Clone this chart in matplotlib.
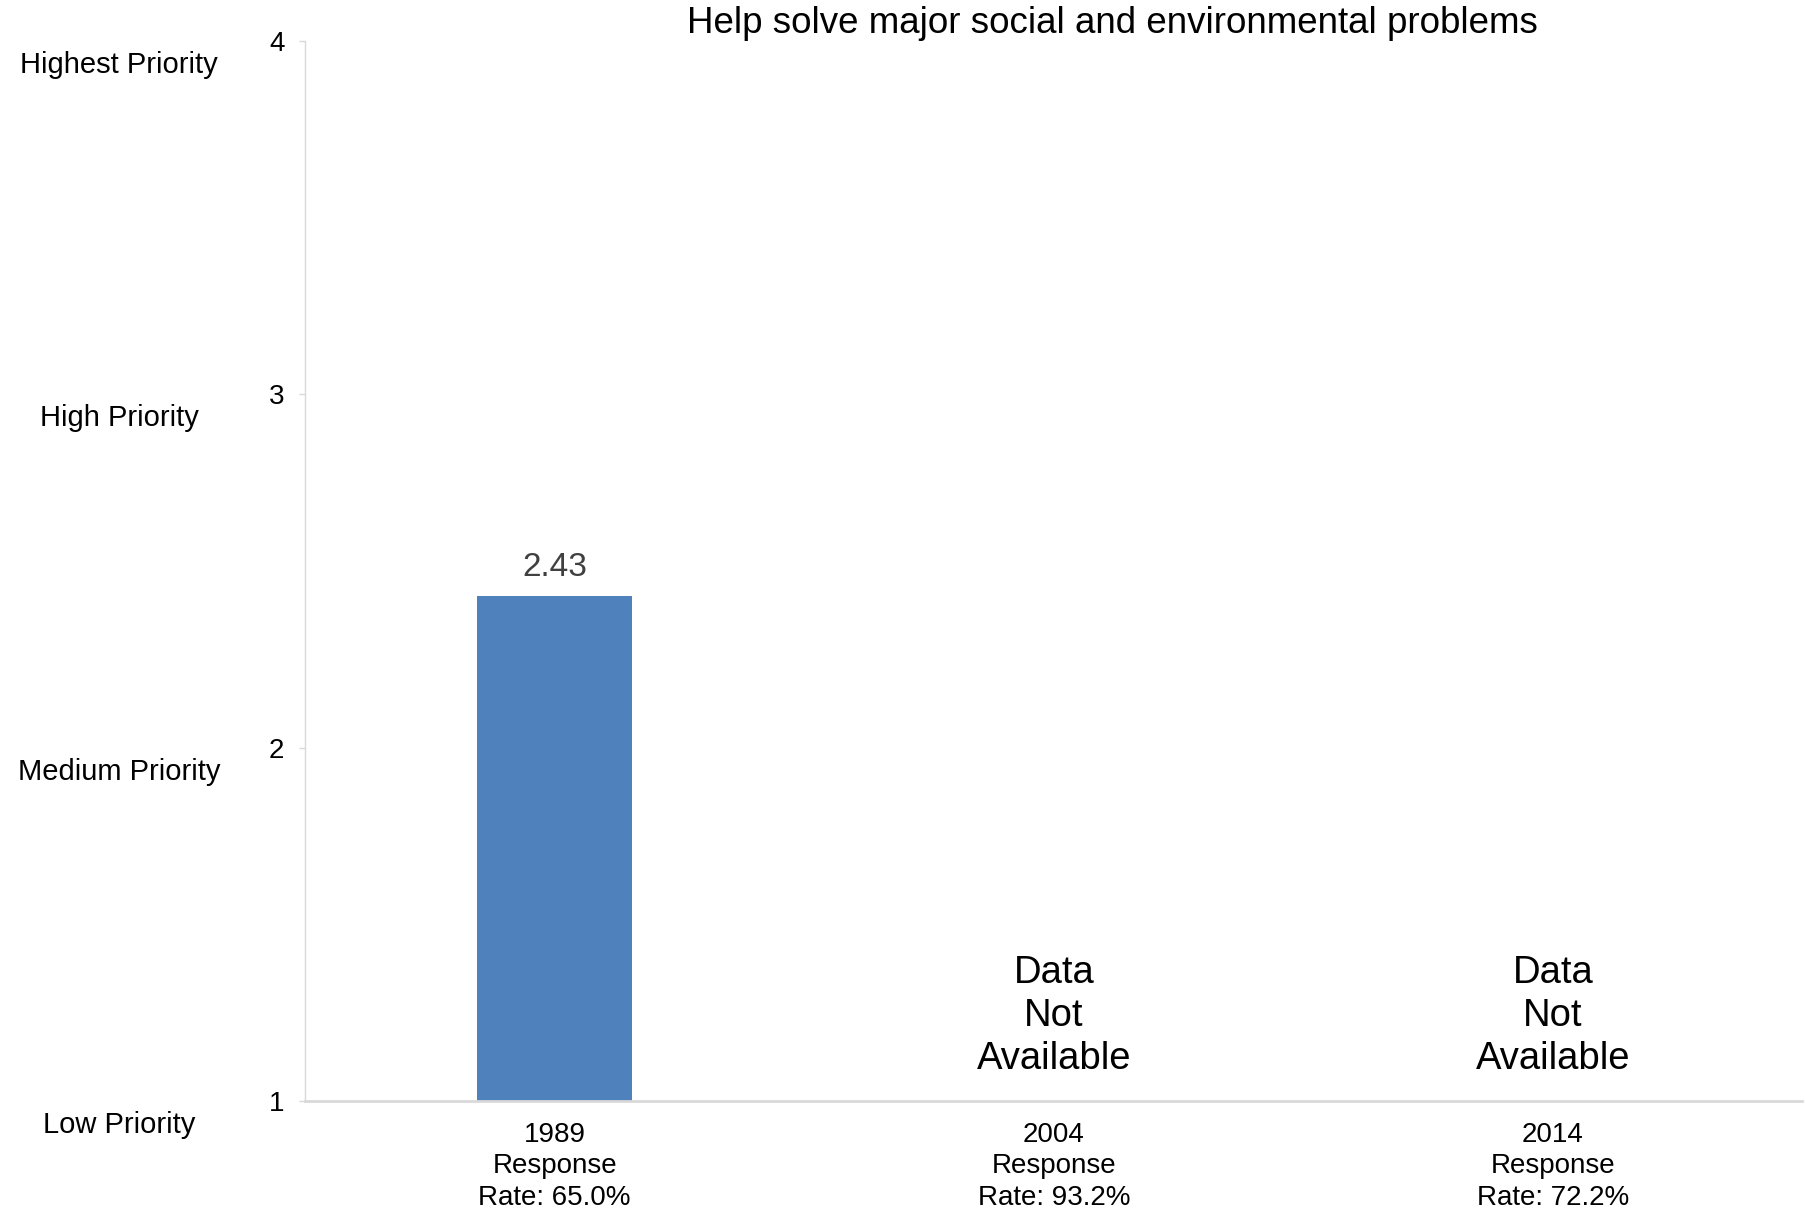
import matplotlib.pyplot as plt
import matplotlib.transforms as mtransforms

plt.rcParams['font.family'] = ['Liberation Sans', 'DejaVu Sans']

years = ['1989', '2004', '2014']
rates = ['65.0%', '93.2%', '72.2%']
values = [2.43, None, None]
priority_labels = ['Low Priority', 'Medium Priority', 'High Priority', 'Highest Priority']
priority_levels = [1, 2, 3, 4]

fig = plt.figure(figsize=(18.06, 12.16), dpi=100)
ax = fig.add_axes([0.169, 0.0946, 0.829, 0.8717])

x = list(range(len(years)))
for i, v in enumerate(values):
    if v is not None:
        ax.bar(i, v - 1, bottom=1, width=0.31, color='#4F81BD')
        ax.text(i, v + 0.035, '%.2f' % v, ha='center', va='bottom', fontsize=24, color='#404040')
    else:
        ax.text(i, 1.24, 'Data\nNot\nAvailable', ha='center', va='center', fontsize=27.5,
                linespacing=1.25, color='black')

ax.set_xlim(-0.5, 2.5)
ax.set_ylim(1, 4)
ax.set_yticks(priority_levels)
ax.set_yticklabels([str(p) for p in priority_levels])
ax.set_xticks(x)
ax.set_xticklabels(['%s\nResponse\nRate: %s' % (y, r) for y, r in zip(years, rates)],
                   fontsize=20, linespacing=1.28)

ax.tick_params(axis='y', length=4, width=1, color='#d9d9d9', labelsize=20, pad=11)
ax.tick_params(axis='x', length=0, pad=15)

for s in ['top', 'right']:
    ax.spines[s].set_visible(False)
ax.spines['left'].set_color('#d9d9d9')
ax.spines['left'].set_linewidth(1)
ax.spines['bottom'].set_color('#d9d9d9')
ax.spines['bottom'].set_linewidth(2)

trans = mtransforms.blended_transform_factory(fig.transFigure, ax.transData)
for lvl, lab in zip(priority_levels, priority_labels):
    ax.text(0.066, lvl - 0.068, lab, transform=trans, ha='center', va='center', fontsize=21)

fig.text(0.616, 0.981, 'Help solve major social and environmental problems',
         ha='center', va='center', fontsize=26.5)

fig.savefig('out.png', dpi=100)
